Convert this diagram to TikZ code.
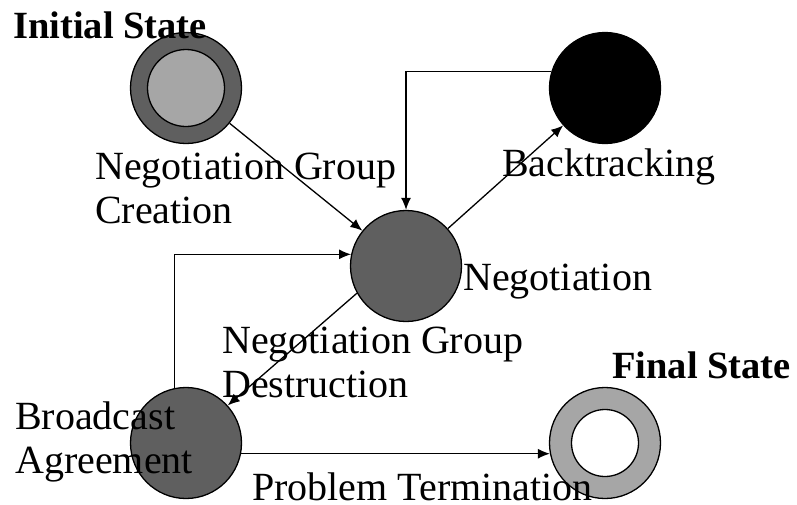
\documentclass[tikz,border=0pt]{standalone}
\usepackage{fontspec}
\setmainfont{Liberation Serif}
\usetikzlibrary{arrows.meta}

\definecolor{darkgrey}{HTML}{5F5F5F}
\definecolor{lightgrey}{HTML}{A6A6A6}

\begin{document}
\begin{tikzpicture}[
    x=1pt, y=-1pt,
    every node/.style={inner sep=0pt},
    state/.style={circle, draw, line width=1.3pt, minimum size=111pt},
    statetext/.style={anchor=base west, align=left, font=\fontsize{40}{44}\selectfont},
    boldtext/.style={statetext, font=\fontsize{38.5}{44}\selectfont\bfseries},
    trans/.style={-{Latex[length=12pt,width=10pt]}, line width=1.3pt}
  ]
  \useasboundingbox (0,0) rectangle (797,504);

  % States
  \node[state, fill=darkgrey] (init) at (186,88) {};
  \node[state, fill=lightgrey, minimum size=77pt] (initin) at (init) {};
  \node[state, fill=black] (back) at (605,88) {};
  \node[state, fill=darkgrey] (nego) at (406,266) {};
  \node[state, fill=darkgrey] (bcast) at (186,443) {};
  \node[state, fill=lightgrey] (final) at (605,443) {};
  \node[state, fill=white, minimum size=67pt] (finalin) at (final) {};

  % Transitions
  \draw[trans] (init) -- (nego);
  \draw[trans] (nego) -- (back);
  \draw[trans] (back.163) -| (nego.north);
  \draw[trans] (nego.209) -- (bcast.42);
  \draw[trans] (bcast.102) |- (nego.168);
  \draw[trans] (bcast.349) -- (final.191);

  % Labels (base = last line)
  \node[boldtext] (inittext) at (13,38) {Initial State};
  \node[statetext] (createtext) at (95,223) {Negotiation Group\\Creation};
  \node[statetext] (backtext) at (502,176) {Backtracking};
  \node[statetext] (negotext) at (463,290) {Negotiation};
  \node[statetext] (destrtext) at (222,397) {Negotiation Group\\Destruction};
  \node[statetext] (bcasttext) at (15,473) {Broadcast\\Agreement};
  \node[statetext] (termtext) at (252,500) {Problem Termination};
  \node[boldtext] (finaltext) at (612,378) {Final State};

\end{tikzpicture}
\end{document}
